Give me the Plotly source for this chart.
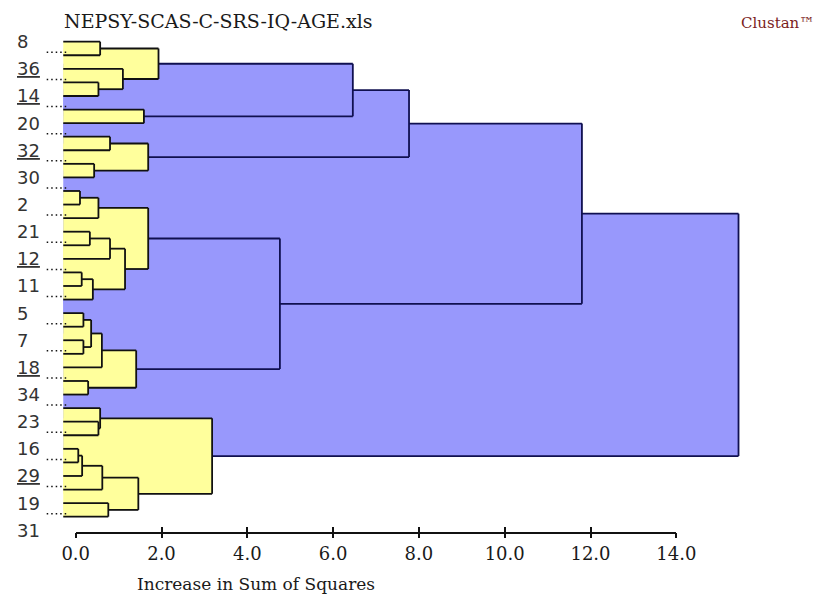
import plotly.graph_objects as go

# ---------------- data ----------------
n_leaves = 36
# Ward-style agglomeration in leaf display order; new cluster ids start at n_leaves
merge_a = [0, 3, 2, 36, 5, 39, 7, 9, 42, 41, 11, 46, 14, 48, 17, 50, 49, 47,
           20, 22, 54, 56, 25, 57, 53, 45, 28, 27, 30, 64, 65, 34, 66, 63, 61]
merge_b = [1, 4, 37, 38, 6, 40, 8, 10, 43, 44, 12, 13, 15, 16, 18, 19, 51, 52,
           21, 23, 55, 24, 26, 58, 59, 60, 29, 62, 31, 32, 33, 35, 67, 68, 69]
merge_height = [0.57, 0.53, 1.10, 1.93, 1.59, 6.46, 0.80, 0.43, 1.69, 7.77,
                0.10, 0.53, 0.33, 0.80, 0.14, 0.40, 1.15, 1.69, 0.18, 0.18,
                0.36, 0.61, 0.29, 1.41, 4.76, 11.80, 0.53, 0.57, 0.06, 0.15,
                0.62, 0.76, 1.46, 3.18, 15.45]

case_labels = ["8", "36", "14", "20", "32", "30", "2", "21", "12", "11",
               "5", "7", "18", "34", "23", "16", "29", "19", "31"]
underlined = {"36", "14", "32", "12", "18", "29"}

tick_values = [0, 2, 4, 6, 8, 10, 12, 14]

# ---------------- geometry / style ----------------
W, H = 827, 595
X0_PX, PX_PER_UNIT = 75.7, 42.9          # pixel of 0.0 and scale of the x axis
LEAF0_PX, LEAF_STEP_PX = 41.7, 13.571    # pixel of the first leaf, leaf spacing
AXIS_Y_PX = 531.7
LEFT = -0.29                             # where the leaf lines start
CUT = 4.0                                # clusters joined below this are yellow

YELLOW, BLUE = "#ffff9c", "#9898fc"
INK_Y, INK_B = "#111111", "#101050"

x_range = [-X0_PX / PX_PER_UNIT, (W - X0_PX) / PX_PER_UNIT]
y_range = [(H - LEAF0_PX) / LEAF_STEP_PX, -LEAF0_PX / LEAF_STEP_PX]

# ---------------- tree layout ----------------
ypos = {i: float(i) for i in range(n_leaves)}
xpos = {i: LEFT for i in range(n_leaves)}
nodes = []
for k, (a, b, h) in enumerate(zip(merge_a, merge_b, merge_height)):
    nid = n_leaves + k
    ypos[nid] = (ypos[a] + ypos[b]) / 2
    xpos[nid] = h
    nodes.append((nid, a, b, h))

fig = go.Figure()

# filled cluster regions: blue (upper) clusters first, then yellow on top
for want_blue in (True, False):
    for nid, a, b, h in reversed(nodes):
        if (h >= CUT) != want_blue:
            continue
        y1, y2 = ypos[a], ypos[b]
        fig.add_trace(go.Scatter(
            x=[LEFT, h, h, LEFT, LEFT], y=[y1, y1, y2, y2, y1],
            mode="lines", fill="toself", fillcolor=BLUE if want_blue else YELLOW,
            line=dict(width=0), hoverinfo="skip", showlegend=False))

# dendrogram links
for want_blue in (True, False):
    xs, ys = [], []
    for nid, a, b, h in nodes:
        if (h >= CUT) != want_blue:
            continue
        xs += [h, h, None]
        ys += [ypos[a], ypos[b], None]
        for c in (a, b):
            xs += [xpos[c], h, None]
            ys += [ypos[c], ypos[c], None]
    fig.add_trace(go.Scatter(
        x=xs, y=ys, mode="lines",
        line=dict(color=INK_B if want_blue else INK_Y, width=1.8),
        hoverinfo="skip", showlegend=False))

# dotted leaders for the unlabelled cases
dx, dy = [], []
for k in range(len(case_labels) - 1):
    yy = 2 * k + 1 - 3.0 / LEAF_STEP_PX
    dx += [(46.7 - X0_PX) / PX_PER_UNIT, (69.0 - X0_PX) / PX_PER_UNIT, None]
    dy += [yy, yy, None]
fig.add_trace(go.Scatter(x=dx, y=dy, mode="lines",
                         line=dict(color="#111111", width=1.5, dash="1.5px,3px"),
                         hoverinfo="skip", showlegend=False))

# invisible traces that carry the scale axis (lower and upper tick halves)
fig.add_trace(go.Scatter(x=[0, 14], y=[0, 0], xaxis="x2", yaxis="y2",
                         mode="markers", marker=dict(opacity=0),
                         hoverinfo="skip", showlegend=False))
fig.add_trace(go.Scatter(x=[0, 14], y=[0, 0], xaxis="x3", yaxis="y2",
                         mode="markers", marker=dict(opacity=0),
                         hoverinfo="skip", showlegend=False))

annotations = []
for k, lab in enumerate(case_labels):
    txt = f"<span style='text-decoration:underline'>{lab}</span>" if lab in underlined else lab
    annotations.append(dict(
        x=15 / W, xref="paper", y=2 * k + 0.0, yref="y", text=txt,
        showarrow=False, xanchor="left", yanchor="middle",
        font=dict(family="DejaVu Sans", size=18, color="#333333")))

annotations.append(dict(
    x=62 / W, xref="paper", y=1 - 21.5 / H, yref="paper",
    text="NEPSY-SCAS-C-SRS-IQ-AGE.xls", showarrow=False,
    xanchor="left", yanchor="middle",
    font=dict(family="DejaVu Serif", size=19, color="#1a1a1a")))
annotations.append(dict(
    x=816 / W, xref="paper", y=1 - 23 / H, yref="paper",
    text="Clustan™", showarrow=False, xanchor="right", yanchor="middle",
    font=dict(family="DejaVu Serif", size=15, color="#7a1c1c")))
annotations.append(dict(
    x=256 / W, xref="paper", y=1 - 584 / H, yref="paper",
    text="Increase in Sum of Squares", showarrow=False,
    xanchor="center", yanchor="middle",
    font=dict(family="DejaVu Serif", size=17, color="#1a1a1a")))

axis_dom = [X0_PX / W, (X0_PX + 14 * PX_PER_UNIT) / W]
y2_dom = [(H - AXIS_Y_PX) / H, 1.0]

fig.update_layout(
    width=W, height=H,
    margin=dict(l=0, r=0, t=0, b=0, pad=0, autoexpand=False),
    paper_bgcolor="white", plot_bgcolor="rgba(0,0,0,0)",
    xaxis=dict(range=x_range, visible=False, fixedrange=True, automargin=False),
    yaxis=dict(range=y_range, visible=False, fixedrange=True, automargin=False),
    xaxis2=dict(domain=axis_dom, anchor="y2", range=[0, 14],
                tickvals=tick_values, tickformat=".1f", automargin=False,
                showline=True, linecolor="#111111", linewidth=1.5,
                ticks="outside", ticklen=5, tickwidth=1.5, tickcolor="#111111",
                showgrid=False, zeroline=False,
                tickfont=dict(family="DejaVu Serif", size=18, color="#1a1a1a")),
    xaxis3=dict(domain=axis_dom, anchor="y2", overlaying="x2", range=[0, 14],
                tickvals=tick_values, showticklabels=False, automargin=False,
                ticks="inside", ticklen=5, tickwidth=1.5, tickcolor="#111111",
                showline=False, showgrid=False, zeroline=False),
    yaxis2=dict(domain=y2_dom, anchor="x2", range=[0, 1], visible=False,
                automargin=False),
    annotations=annotations,
)

fig.write_html("out.html")
